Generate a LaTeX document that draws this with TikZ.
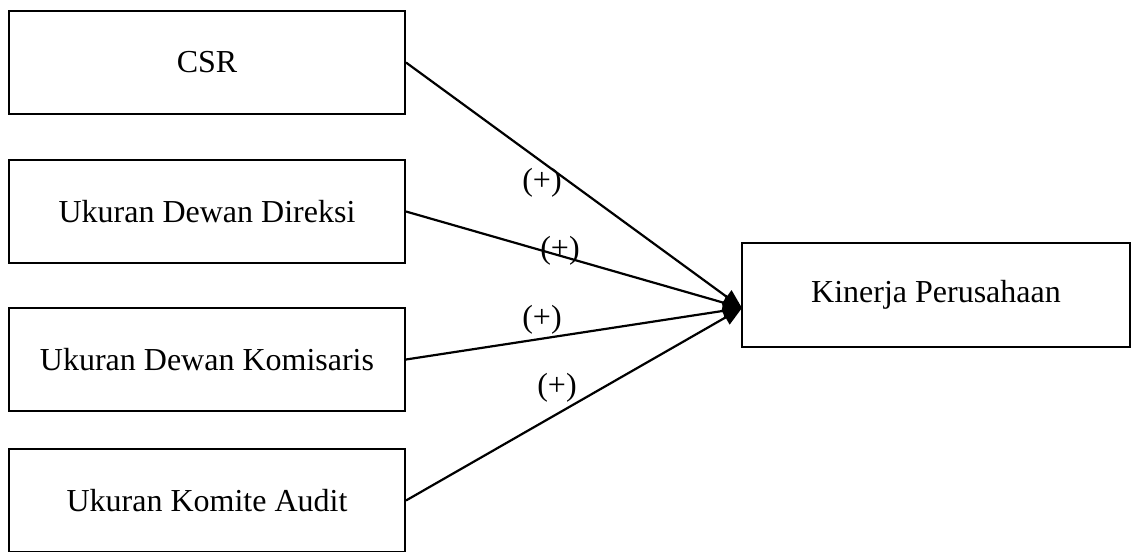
\documentclass[tikz,border=0pt]{standalone}
\usepackage{fontspec}
\setmainfont{Liberation Serif}
\usepackage{tikz}
\usetikzlibrary{arrows.meta}

\begin{document}
\begin{tikzpicture}[x=0.5pt,y=-0.5pt,
  varbox/.style={shape=rectangle, draw, line width=1pt, minimum width=198pt, minimum height=51.5pt, inner sep=0pt, font=\fontsize{16}{19}\selectfont},
  path/.style={line width=1.1pt, -{Triangle[length=9.5pt,width=8pt]}},
  sign/.style={font=\fontsize{16}{19}\selectfont, inner sep=0pt}]
\useasboundingbox (0,0) rectangle (1131,552);
\node[varbox] (csr) at (207,62.5) {CSR};
\node[varbox] (direksi) at (207,211.5) {Ukuran Dewan Direksi};
\node[varbox] (komisaris) at (207,359.5) {Ukuran Dewan Komisaris};
\node[varbox] (audit) at (207,500.5) {Ukuran Komite Audit};
\node[varbox, minimum width=194pt, minimum height=52pt] (kinerja) at (936,295) {Kinerja Perusahaan};
\coordinate (tip) at (742,308);
\draw[path] (csr.east) -- (tip);
\draw[path] (direksi.east) -- (tip);
\draw[path] (komisaris.east) -- (tip);
\draw[path] (audit.east) -- (tip);
\node[sign] (s1) at (542,183) {(+)};
\node[sign] (s2) at (560,251) {(+)};
\node[sign] (s3) at (542,320) {(+)};
\node[sign] (s4) at (557,388) {(+)};
\end{tikzpicture}
\end{document}
